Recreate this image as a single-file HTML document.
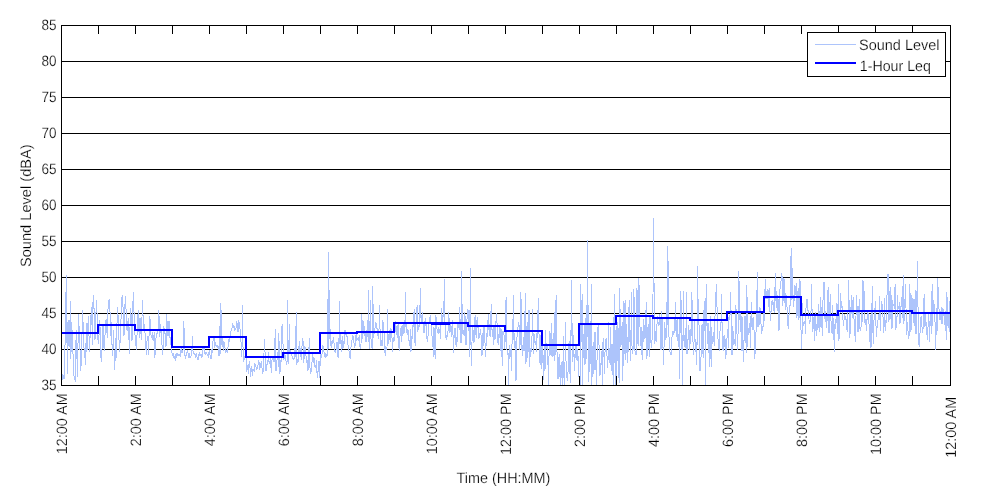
<!DOCTYPE html>
<html><head><meta charset="utf-8"><title>Sound Level</title>
<style>
html,body{margin:0;padding:0;background:#fff;}
body{width:1000px;height:500px;position:relative;overflow:hidden;font-family:"Liberation Sans",sans-serif;font-size:15px;color:#000;}
svg{position:absolute;left:0;top:0;}
</style></head><body>
<svg width="1000" height="500" viewBox="0 0 1000 500" shape-rendering="crispEdges">
<rect x="0" y="0" width="1000" height="500" fill="#fff"/>
<g fill="#000"><rect x="61" y="25" width="890" height="1"/><rect x="61" y="61" width="890" height="1"/><rect x="61" y="97" width="890" height="1"/><rect x="61" y="133" width="890" height="1"/><rect x="61" y="169" width="890" height="1"/><rect x="61" y="205" width="890" height="1"/><rect x="61" y="241" width="890" height="1"/><rect x="61" y="277" width="890" height="1"/><rect x="61" y="313" width="890" height="1"/><rect x="61" y="349" width="890" height="1"/><rect x="61" y="385" width="890" height="1"/></g>
<path d="M61.0 384.0 L61.6 380.3 L62.2 379.0 L62.9 374.5 L63.5 375.6 L64.1 379.0 L64.7 356.0 L65.3 335.0 L65.9 295.5 L66.6 275.0 L67.2 374.0 L67.8 322.0 L68.4 346.0 L69.0 320.0 L69.6 347.0 L70.3 301.0 L70.9 359.0 L71.5 322.0 L72.1 347.0 L72.7 330.0 L73.3 375.0 L74.0 376.3 L74.6 379.5 L75.2 380.5 L75.8 344.9 L76.4 330.0 L77.1 362.7 L77.7 376.5 L78.3 314.0 L78.9 323.0 L79.5 337.6 L80.1 352.0 L80.8 371.0 L81.4 356.4 L82.0 332.5 L82.6 310.0 L83.2 327.0 L83.8 346.0 L84.5 352.6 L85.1 358.4 L85.7 364.5 L86.3 323.0 L86.9 352.0 L87.5 341.2 L88.2 316.0 L88.8 327.6 L89.4 351.5 L90.0 338.6 L90.6 326.4 L91.3 307.0 L91.9 320.4 L92.5 345.0 L93.1 295.0 L93.7 295.0 L94.3 320.4 L95.0 340.0 L95.6 322.8 L96.2 307.4 L96.8 300.0 L97.4 336.0 L98.0 339.5 L98.7 344.0 L99.3 327.3 L99.9 320.0 L100.5 356.0 L101.1 358.3 L101.7 361.5 L102.4 334.3 L103.0 326.0 L103.6 341.9 L104.2 351.0 L104.8 337.9 L105.5 327.6 L106.1 319.0 L106.7 326.6 L107.3 338.0 L107.9 310.0 L108.5 304.5 L109.2 299.0 L109.8 299.0 L110.4 336.0 L111.0 329.2 L111.6 322.0 L112.2 355.5 L112.9 347.1 L113.5 330.0 L114.1 352.5 L114.7 369.5 L115.3 338.0 L115.9 361.0 L116.6 340.7 L117.2 315.3 L117.8 307.0 L118.4 330.0 L119.0 339.7 L119.6 351.5 L120.3 336.3 L120.9 320.0 L121.5 313.2 L122.1 295.0 L122.7 295.0 L123.4 320.2 L124.0 336.0 L124.6 321.4 L125.2 296.0 L125.8 304.5 L126.4 318.3 L127.1 331.0 L127.7 323.7 L128.3 318.0 L128.9 336.6 L129.5 353.5 L130.1 322.4 L130.8 308.0 L131.4 326.5 L132.0 341.0 L132.6 319.8 L133.2 292.0 L133.8 303.2 L134.5 332.0 L135.1 335.8 L135.7 341.8 L136.3 350.0 L136.9 338.4 L137.6 321.4 L138.2 310.0 L138.8 328.7 L139.4 338.0 L140.0 318.0 L140.6 325.7 L141.3 340.0 L141.9 320.2 L142.5 300.0 L143.1 317.4 L143.7 330.0 L144.3 324.0 L145.0 332.6 L145.6 340.0 L146.2 354.5 L146.8 343.7 L147.4 335.6 L148.0 339.1 L148.7 354.9 L149.3 318.7 L149.9 316.6 L150.5 329.1 L151.1 336.3 L151.8 337.9 L152.4 332.1 L153.0 340.1 L153.6 340.1 L154.2 332.2 L154.8 357.6 L155.5 348.7 L156.1 335.7 L156.7 334.3 L157.3 332.5 L157.9 333.3 L158.5 309.7 L159.2 317.8 L159.8 337.2 L160.4 324.5 L161.0 329.6 L161.6 341.9 L162.2 346.5 L162.9 354.8 L163.5 327.2 L164.1 328.0 L164.7 328.5 L165.3 338.2 L166.0 347.2 L166.6 314.1 L167.2 336.3 L167.8 321.4 L168.4 335.6 L169.0 320.6 L169.7 330.2 L170.3 344.6 L170.9 337.9 L171.5 338.2 L172.1 356.0 L172.7 354.9 L173.4 353.8 L174.0 357.8 L174.6 358.1 L175.2 354.5 L175.8 360.7 L176.4 353.5 L177.1 356.0 L177.7 353.8 L178.3 354.0 L178.9 355.6 L179.5 355.0 L180.2 355.8 L180.8 350.2 L181.4 348.0 L182.0 353.0 L182.6 350.7 L183.2 349.5 L183.9 321.0 L184.5 354.7 L185.1 356.0 L185.7 358.6 L186.3 352.9 L186.9 353.3 L187.6 350.3 L188.2 354.3 L188.8 358.2 L189.4 352.9 L190.0 357.6 L190.6 357.8 L191.3 354.7 L191.9 348.6 L192.5 336.0 L193.1 354.0 L193.7 352.0 L194.3 354.0 L195.0 354.8 L195.6 358.2 L196.2 352.6 L196.8 356.2 L197.4 358.7 L198.1 359.6 L198.7 355.4 L199.3 352.2 L199.9 355.8 L200.5 354.7 L201.1 354.3 L201.8 357.7 L202.4 354.5 L203.0 347.6 L203.6 350.1 L204.2 347.0 L204.8 353.2 L205.5 354.2 L206.1 352.1 L206.7 352.9 L207.3 355.6 L207.9 354.5 L208.5 357.6 L209.2 350.4 L209.8 353.7 L210.4 357.1 L211.0 359.0 L211.6 349.3 L212.3 352.6 L212.9 341.2 L213.5 340.3 L214.1 336.5 L214.7 348.1 L215.3 342.4 L216.0 345.7 L216.6 346.2 L217.2 347.1 L217.8 344.9 L218.4 347.9 L219.0 356.1 L219.7 351.5 L220.3 303.0 L220.9 354.1 L221.5 310.0 L222.1 342.8 L222.7 343.4 L223.4 351.1 L224.0 341.7 L224.6 342.7 L225.2 350.5 L225.8 352.6 L226.5 349.9 L227.1 352.4 L227.7 350.5 L228.3 343.6 L228.9 339.1 L229.5 341.5 L230.2 334.8 L230.8 332.1 L231.4 329.0 L232.0 327.7 L232.6 323.2 L233.2 327.4 L233.9 324.8 L234.5 330.6 L235.1 330.0 L235.7 328.2 L236.3 327.8 L236.9 321.4 L237.6 330.3 L238.2 332.0 L238.8 321.8 L239.4 322.9 L240.0 329.1 L240.7 329.3 L241.3 353.7 L241.9 356.8 L242.5 305.0 L243.1 354.6 L243.7 361.6 L244.4 358.5 L245.0 356.0 L245.6 335.9 L246.2 366.6 L246.8 372.2 L247.4 367.1 L248.1 364.3 L248.7 374.2 L249.3 361.2 L249.9 366.2 L250.5 377.2 L251.1 366.2 L251.8 369.3 L252.4 375.9 L253.0 369.4 L253.6 369.9 L254.2 371.7 L254.9 364.1 L255.5 364.8 L256.1 366.9 L256.7 370.1 L257.3 367.5 L257.9 365.7 L258.6 361.2 L259.2 362.4 L259.8 368.7 L260.4 367.5 L261.0 362.7 L261.6 360.8 L262.3 373.2 L262.9 372.1 L263.5 369.0 L264.1 349.9 L264.7 339.0 L265.3 363.2 L266.0 371.2 L266.6 367.4 L267.2 363.2 L267.8 364.8 L268.4 351.8 L269.1 363.0 L269.7 363.6 L270.3 358.2 L270.9 367.2 L271.5 373.4 L272.1 358.3 L272.8 356.2 L273.4 360.7 L274.0 361.9 L274.6 359.2 L275.2 329.0 L275.8 370.2 L276.5 370.4 L277.1 358.2 L277.7 352.5 L278.3 367.0 L278.9 333.0 L279.5 374.1 L280.2 370.7 L280.8 360.1 L281.4 362.1 L282.0 326.0 L282.6 325.0 L283.2 352.6 L283.9 359.9 L284.5 353.1 L285.1 355.1 L285.7 360.4 L286.3 361.9 L287.0 364.5 L287.6 300.0 L288.2 357.2 L288.8 363.8 L289.4 324.0 L290.0 352.6 L290.7 351.0 L291.3 355.2 L291.9 356.0 L292.5 358.4 L293.1 358.2 L293.7 359.4 L294.4 357.5 L295.0 348.0 L295.6 357.3 L296.2 312.0 L296.8 364.6 L297.4 359.1 L298.1 361.9 L298.7 352.1 L299.3 340.8 L299.9 351.6 L300.5 348.2 L301.2 359.8 L301.8 350.3 L302.4 338.4 L303.0 340.5 L303.6 363.3 L304.2 357.1 L304.9 347.0 L305.5 347.6 L306.1 357.9 L306.7 361.8 L307.3 360.9 L307.9 370.7 L308.6 368.6 L309.2 338.0 L309.8 364.3 L310.4 373.4 L311.0 371.7 L311.6 371.5 L312.3 355.0 L312.9 355.6 L313.5 362.7 L314.1 357.6 L314.7 366.2 L315.4 365.9 L316.0 368.2 L316.6 360.4 L317.2 378.4 L317.8 376.0 L318.4 363.5 L319.1 360.9 L319.7 378.4 L320.3 354.1 L320.9 356.5 L321.5 358.0 L322.1 353.2 L322.8 344.9 L323.4 349.0 L324.0 351.6 L324.6 356.8 L325.2 357.0 L325.8 353.0 L326.5 355.9 L327.1 355.3 L327.7 353.3 L328.3 252.0 L328.9 349.3 L329.6 290.0 L330.2 345.6 L330.8 344.8 L331.4 347.9 L332.0 341.1 L332.6 344.1 L333.3 336.6 L333.9 340.9 L334.5 349.5 L335.1 352.9 L335.7 350.9 L336.3 349.1 L337.0 341.8 L337.6 356.8 L338.2 355.6 L338.8 358.2 L339.4 301.0 L340.0 344.1 L340.7 333.6 L341.3 346.0 L341.9 352.0 L342.5 336.2 L343.1 341.8 L343.8 348.3 L344.4 335.6 L345.0 330.1 L345.6 332.8 L346.2 336.7 L346.8 333.3 L347.5 341.1 L348.1 345.6 L348.7 349.9 L349.3 352.1 L349.9 358.1 L350.5 358.3 L351.2 342.5 L351.8 341.4 L352.4 337.3 L353.0 335.6 L353.6 341.3 L354.2 344.2 L354.9 348.4 L355.5 336.8 L356.1 334.4 L356.7 341.2 L357.3 338.4 L358.0 338.3 L358.6 340.5 L359.2 335.1 L359.8 346.2 L360.4 347.5 L361.0 344.0 L361.7 314.0 L362.3 339.1 L362.9 320.0 L363.5 323.4 L364.1 335.5 L364.7 326.2 L365.4 338.1 L366.0 342.4 L366.6 330.1 L367.2 335.6 L367.8 337.1 L368.4 290.0 L369.1 349.4 L369.7 345.2 L370.3 300.0 L370.9 338.9 L371.5 340.8 L372.1 348.8 L372.8 286.0 L373.4 338.4 L374.0 328.7 L374.6 333.9 L375.2 325.6 L375.9 322.1 L376.5 328.9 L377.1 328.5 L377.7 333.3 L378.3 338.6 L378.9 333.0 L379.6 305.0 L380.2 339.7 L380.8 346.0 L381.4 340.4 L382.0 346.4 L382.6 319.9 L383.3 322.8 L383.9 332.1 L384.5 338.8 L385.1 355.8 L385.7 346.0 L386.3 349.9 L387.0 347.3 L387.6 309.0 L388.2 344.3 L388.8 337.4 L389.4 340.2 L390.1 328.2 L390.7 342.0 L391.3 329.4 L391.9 334.8 L392.5 352.4 L393.1 340.1 L393.8 337.2 L394.4 340.9 L395.0 332.8 L395.6 321.4 L396.2 328.3 L396.8 334.1 L397.5 337.5 L398.1 323.3 L398.7 344.4 L399.3 350.9 L399.9 336.2 L400.5 333.6 L401.2 325.6 L401.8 341.7 L402.4 325.5 L403.0 334.1 L403.6 325.2 L404.3 319.9 L404.9 332.6 L405.5 292.0 L406.1 333.3 L406.7 322.9 L407.3 334.6 L408.0 329.8 L408.6 331.8 L409.2 345.0 L409.8 345.6 L410.4 328.8 L411.0 351.8 L411.7 336.4 L412.3 339.0 L412.9 325.2 L413.5 326.6 L414.1 309.5 L414.7 339.9 L415.4 346.2 L416.0 321.9 L416.6 310.3 L417.2 305.1 L417.8 332.1 L418.5 324.7 L419.1 326.2 L419.7 324.2 L420.3 288.0 L420.9 315.9 L421.5 324.0 L422.2 311.8 L422.8 321.6 L423.4 328.9 L424.0 333.1 L424.6 327.4 L425.2 318.5 L425.9 326.3 L426.5 322.4 L427.1 342.2 L427.7 340.9 L428.3 331.3 L428.9 324.3 L429.6 319.5 L430.2 315.4 L430.8 319.9 L431.4 330.3 L432.0 335.6 L432.7 337.5 L433.3 356.5 L433.9 327.4 L434.5 328.7 L435.1 359.0 L435.7 314.8 L436.4 319.1 L437.0 328.6 L437.6 330.8 L438.2 334.4 L438.8 327.5 L439.4 333.0 L440.1 330.7 L440.7 338.7 L441.3 308.5 L441.9 313.2 L442.5 325.0 L443.1 315.5 L443.8 313.0 L444.4 279.0 L445.0 322.0 L445.6 334.9 L446.2 339.5 L446.9 335.3 L447.5 336.7 L448.1 329.7 L448.7 312.1 L449.3 324.4 L449.9 333.4 L450.6 323.7 L451.2 326.5 L451.8 337.4 L452.4 320.5 L453.0 334.6 L453.6 352.9 L454.3 328.3 L454.9 330.6 L455.5 327.6 L456.1 347.3 L456.7 337.4 L457.3 342.0 L458.0 323.9 L458.6 327.5 L459.2 328.5 L459.8 307.4 L460.4 341.0 L461.1 342.9 L461.7 271.0 L462.3 333.6 L462.9 328.6 L463.5 334.3 L464.1 334.8 L464.8 312.3 L465.4 322.3 L466.0 345.4 L466.6 326.1 L467.2 315.9 L467.8 309.3 L468.5 312.8 L469.1 334.4 L469.7 357.3 L470.3 268.0 L470.9 339.5 L471.5 365.7 L472.2 333.2 L472.8 324.6 L473.4 339.4 L474.0 342.6 L474.6 321.8 L475.2 315.5 L475.9 334.3 L476.5 337.5 L477.1 316.8 L477.7 327.8 L478.3 325.3 L479.0 338.6 L479.6 333.3 L480.2 332.7 L480.8 328.9 L481.4 347.4 L482.0 355.8 L482.7 333.3 L483.3 345.5 L483.9 325.9 L484.5 333.4 L485.1 344.2 L485.7 356.8 L486.4 333.3 L487.0 332.8 L487.6 336.5 L488.2 313.9 L488.8 330.2 L489.4 324.0 L490.1 337.1 L490.7 319.1 L491.3 303.9 L491.9 328.5 L492.5 336.5 L493.2 327.0 L493.8 344.8 L494.4 332.4 L495.0 325.4 L495.6 338.8 L496.2 313.5 L496.9 320.6 L497.5 331.0 L498.1 345.1 L498.7 334.0 L499.3 338.2 L499.9 325.9 L500.6 336.5 L501.2 357.3 L501.8 329.2 L502.4 365.5 L503.0 331.5 L503.6 333.7 L504.3 336.3 L504.9 348.5 L505.5 317.6 L506.1 297.1 L506.7 346.3 L507.4 354.8 L508.0 352.4 L508.6 384.6 L509.2 348.0 L509.8 344.7 L510.4 357.1 L511.1 347.8 L511.7 371.3 L512.3 318.8 L512.9 329.9 L513.5 295.3 L514.1 347.8 L514.8 332.8 L515.4 355.9 L516.0 381.4 L516.6 343.1 L517.2 334.6 L517.8 329.1 L518.5 322.2 L519.1 325.4 L519.7 349.7 L520.3 340.8 L520.9 292.0 L521.6 335.9 L522.2 356.0 L522.8 350.0 L523.4 337.4 L524.0 351.4 L524.6 337.4 L525.3 293.0 L525.9 364.3 L526.5 350.3 L527.1 322.0 L527.7 357.7 L528.3 347.4 L529.0 310.3 L529.6 366.6 L530.2 348.1 L530.8 356.8 L531.4 344.5 L532.0 336.7 L532.7 309.5 L533.3 354.4 L533.9 341.1 L534.5 333.8 L535.1 345.1 L535.8 341.1 L536.4 352.0 L537.0 333.3 L537.6 337.7 L538.2 298.4 L538.8 326.9 L539.5 350.6 L540.1 365.4 L540.7 334.8 L541.3 336.3 L541.9 368.7 L542.5 338.2 L543.2 360.4 L543.8 380.2 L544.4 345.8 L545.0 370.8 L545.6 330.1 L546.2 349.4 L546.9 343.4 L547.5 347.4 L548.1 368.7 L548.7 385.0 L549.3 331.0 L550.0 332.9 L550.6 355.4 L551.2 322.8 L551.8 355.4 L552.4 357.0 L553.0 339.2 L553.7 356.2 L554.3 312.5 L554.9 361.0 L555.5 331.1 L556.1 295.0 L556.7 350.9 L557.4 354.0 L558.0 379.2 L558.6 363.6 L559.2 354.1 L559.8 372.9 L560.4 385.0 L561.1 362.1 L561.7 369.3 L562.3 385.0 L562.9 367.4 L563.5 336.3 L564.1 385.0 L564.8 385.0 L565.4 322.3 L566.0 361.2 L566.6 370.3 L567.2 381.3 L567.9 375.4 L568.5 356.6 L569.1 340.9 L569.7 364.1 L570.3 382.7 L570.9 340.2 L571.6 280.0 L572.2 361.5 L572.8 323.3 L573.4 356.8 L574.0 353.3 L574.6 371.0 L575.3 348.0 L575.9 344.4 L576.5 354.1 L577.1 361.0 L577.7 348.7 L578.3 362.2 L579.0 377.0 L579.6 381.6 L580.2 385.0 L580.8 284.0 L581.4 341.5 L582.1 294.5 L582.7 385.0 L583.3 333.9 L583.9 351.2 L584.5 365.1 L585.1 318.0 L585.8 363.6 L586.4 351.3 L587.0 306.3 L587.6 240.0 L588.2 381.9 L588.8 305.3 L589.5 372.2 L590.1 357.2 L590.7 363.9 L591.3 284.0 L591.9 384.6 L592.5 346.4 L593.2 373.8 L593.8 341.8 L594.4 370.2 L595.0 331.7 L595.6 349.3 L596.3 385.0 L596.9 363.1 L597.5 348.0 L598.1 323.4 L598.7 332.2 L599.3 356.8 L600.0 375.5 L600.6 362.7 L601.2 365.1 L601.8 351.0 L602.4 385.0 L603.0 342.2 L603.7 338.3 L604.3 374.2 L604.9 353.6 L605.5 345.0 L606.1 337.6 L606.7 345.6 L607.4 367.6 L608.0 360.8 L608.6 321.8 L609.2 362.7 L609.8 356.5 L610.5 327.0 L611.1 371.3 L611.7 345.0 L612.3 343.6 L612.9 371.9 L613.5 385.0 L614.2 294.0 L614.8 363.0 L615.4 330.1 L616.0 384.6 L616.6 325.6 L617.2 361.1 L617.9 322.4 L618.5 353.0 L619.1 382.6 L619.7 287.7 L620.3 326.9 L620.9 346.5 L621.6 334.0 L622.2 322.0 L622.8 381.2 L623.4 337.7 L624.0 301.5 L624.7 353.9 L625.3 299.8 L625.9 360.2 L626.5 323.9 L627.1 339.0 L627.7 362.5 L628.4 338.5 L629.0 306.8 L629.6 300.4 L630.2 360.8 L630.8 351.5 L631.4 292.0 L632.1 354.0 L632.7 346.4 L633.3 349.6 L633.9 288.6 L634.5 329.7 L635.1 354.9 L635.8 351.4 L636.4 354.5 L637.0 287.7 L637.6 339.6 L638.2 346.3 L638.9 278.0 L639.5 316.0 L640.1 329.1 L640.7 336.8 L641.3 354.6 L641.9 326.7 L642.6 360.1 L643.2 319.5 L643.8 341.6 L644.4 324.9 L645.0 339.3 L645.6 321.5 L646.3 302.5 L646.9 359.0 L647.5 342.4 L648.1 324.3 L648.7 340.2 L649.3 356.8 L650.0 315.5 L650.6 333.7 L651.2 347.3 L651.8 347.0 L652.4 329.0 L653.0 294.9 L653.7 218.0 L654.3 343.6 L654.9 337.3 L655.5 331.4 L656.1 342.3 L656.8 328.5 L657.4 316.5 L658.0 322.2 L658.6 325.1 L659.2 324.8 L659.8 313.8 L660.5 349.7 L661.1 310.8 L661.7 350.2 L662.3 316.7 L662.9 344.0 L663.5 364.5 L664.2 341.1 L664.8 322.4 L665.4 338.0 L666.0 340.0 L666.6 302.3 L667.2 324.8 L667.9 246.0 L668.5 327.6 L669.1 338.6 L669.7 351.7 L670.3 352.3 L671.0 355.1 L671.6 348.8 L672.2 331.2 L672.8 336.6 L673.4 331.6 L674.0 330.7 L674.7 333.4 L675.3 302.5 L675.9 330.3 L676.5 336.5 L677.1 317.5 L677.7 336.5 L678.4 347.3 L679.0 333.7 L679.6 378.5 L680.2 291.0 L680.8 332.9 L681.4 300.5 L682.1 356.6 L682.7 385.0 L683.3 291.0 L683.9 339.6 L684.5 347.4 L685.2 331.0 L685.8 348.0 L686.4 292.1 L687.0 354.0 L687.6 344.4 L688.2 337.5 L688.9 325.2 L689.5 349.8 L690.1 328.8 L690.7 343.7 L691.3 328.3 L691.9 291.8 L692.6 338.3 L693.2 343.2 L693.8 354.8 L694.4 320.6 L695.0 338.3 L695.6 352.0 L696.3 342.1 L696.9 365.1 L697.5 266.0 L698.1 319.9 L698.7 298.7 L699.4 357.0 L700.0 371.1 L700.6 358.4 L701.2 356.1 L701.8 326.0 L702.4 324.0 L703.1 357.7 L703.7 319.9 L704.3 300.9 L704.9 318.1 L705.5 385.0 L706.1 284.0 L706.8 324.6 L707.4 323.7 L708.0 343.9 L708.6 323.3 L709.2 366.5 L709.8 337.4 L710.5 316.2 L711.1 366.5 L711.7 326.8 L712.3 343.6 L712.9 338.7 L713.6 332.4 L714.2 345.8 L714.8 324.5 L715.4 300.3 L716.0 292.6 L716.6 284.0 L717.3 323.1 L717.9 338.5 L718.5 340.2 L719.1 350.7 L719.7 341.5 L720.3 322.3 L721.0 324.1 L721.6 294.5 L722.2 335.4 L722.8 349.2 L723.4 350.1 L724.0 336.5 L724.7 335.3 L725.3 358.7 L725.9 339.3 L726.5 354.5 L727.1 335.6 L727.8 329.5 L728.4 347.6 L729.0 316.6 L729.6 320.1 L730.2 312.7 L730.8 292.0 L731.5 351.7 L732.1 355.0 L732.7 326.4 L733.3 335.4 L733.9 345.4 L734.5 339.3 L735.2 345.9 L735.8 305.2 L736.4 315.5 L737.0 333.5 L737.6 349.7 L738.2 327.7 L738.9 271.0 L739.5 320.2 L740.1 315.1 L740.7 311.8 L741.3 350.8 L741.9 315.7 L742.6 326.3 L743.2 361.7 L743.8 345.5 L744.4 331.5 L745.0 315.9 L745.7 332.8 L746.3 352.8 L746.9 285.0 L747.5 346.8 L748.1 327.6 L748.7 334.5 L749.4 322.7 L750.0 333.0 L750.6 347.5 L751.2 302.4 L751.8 325.0 L752.4 330.0 L753.1 316.6 L753.7 320.9 L754.3 339.0 L754.9 359.0 L755.5 336.4 L756.1 331.4 L756.8 300.4 L757.4 272.0 L758.0 327.3 L758.6 325.4 L759.2 307.5 L759.9 325.1 L760.5 307.9 L761.1 327.2 L761.7 333.7 L762.3 326.5 L762.9 330.6 L763.6 311.9 L764.2 321.0 L764.8 295.4 L765.4 279.0 L766.0 299.4 L766.6 292.9 L767.3 289.4 L767.9 297.7 L768.5 306.5 L769.1 287.8 L769.7 300.5 L770.3 321.4 L771.0 312.8 L771.6 301.5 L772.2 304.6 L772.8 301.5 L773.4 302.3 L774.1 312.5 L774.7 302.3 L775.3 273.1 L775.9 301.2 L776.5 291.4 L777.1 310.9 L777.8 295.5 L778.4 304.6 L779.0 331.3 L779.6 290.8 L780.2 287.8 L780.8 283.9 L781.5 273.1 L782.1 277.0 L782.7 306.4 L783.3 294.9 L783.9 278.3 L784.5 282.5 L785.2 310.0 L785.8 293.3 L786.4 297.8 L787.0 307.0 L787.6 320.8 L788.3 329.1 L788.9 317.7 L789.5 305.6 L790.1 305.5 L790.7 265.0 L791.3 248.0 L792.0 300.0 L792.6 268.0 L793.2 307.0 L793.8 303.9 L794.4 296.6 L795.0 285.5 L795.7 295.2 L796.3 282.6 L796.9 317.9 L797.5 310.7 L798.1 287.7 L798.7 320.4 L799.4 315.4 L800.0 278.8 L800.6 325.7 L801.2 331.5 L801.8 348.5 L802.5 303.3 L803.1 325.6 L803.7 325.2 L804.3 322.1 L804.9 321.6 L805.5 333.9 L806.2 298.8 L806.8 300.6 L807.4 298.6 L808.0 310.2 L808.6 310.1 L809.2 323.7 L809.9 323.0 L810.5 319.6 L811.1 309.6 L811.7 284.0 L812.3 332.0 L812.9 330.3 L813.6 321.0 L814.2 314.6 L814.8 340.5 L815.4 311.8 L816.0 327.7 L816.6 335.6 L817.3 316.1 L817.9 330.4 L818.5 304.0 L819.1 332.4 L819.7 322.5 L820.4 297.0 L821.0 327.3 L821.6 306.9 L822.2 336.3 L822.8 310.4 L823.4 282.0 L824.1 282.0 L824.7 314.5 L825.3 322.4 L825.9 311.4 L826.5 328.0 L827.1 319.5 L827.8 292.0 L828.4 286.8 L829.0 333.3 L829.6 320.2 L830.2 294.1 L830.8 319.1 L831.5 325.5 L832.1 334.3 L832.7 304.6 L833.3 339.9 L833.9 317.8 L834.6 352.4 L835.2 318.6 L835.8 328.5 L836.4 314.3 L837.0 303.2 L837.6 333.5 L838.3 284.0 L838.9 341.0 L839.5 331.6 L840.1 310.4 L840.7 293.5 L841.3 307.4 L842.0 307.7 L842.6 305.7 L843.2 325.8 L843.8 323.1 L844.4 314.4 L845.0 320.3 L845.7 316.0 L846.3 321.0 L846.9 329.0 L847.5 332.4 L848.1 308.8 L848.8 280.0 L849.4 337.6 L850.0 320.6 L850.6 334.1 L851.2 295.0 L851.8 312.1 L852.5 318.1 L853.1 297.1 L853.7 309.5 L854.3 328.1 L854.9 334.1 L855.5 341.9 L856.2 306.7 L856.8 295.0 L857.4 324.5 L858.0 331.9 L858.6 321.5 L859.2 299.3 L859.9 328.4 L860.5 330.0 L861.1 326.6 L861.7 311.4 L862.3 322.1 L863.0 280.0 L863.6 310.5 L864.2 290.9 L864.8 321.4 L865.4 325.1 L866.0 318.6 L866.7 330.9 L867.3 310.1 L867.9 316.4 L868.5 313.5 L869.1 326.1 L869.7 341.5 L870.4 315.5 L871.0 347.6 L871.6 341.6 L872.2 286.0 L872.8 327.1 L873.4 344.1 L874.1 316.7 L874.7 316.3 L875.3 301.5 L875.9 323.1 L876.5 336.8 L877.2 325.7 L877.8 323.6 L878.4 314.4 L879.0 319.3 L879.6 296.5 L880.2 331.2 L880.9 311.8 L881.5 300.7 L882.1 305.3 L882.7 304.5 L883.3 328.8 L883.9 332.9 L884.6 298.1 L885.2 329.5 L885.8 330.5 L886.4 309.3 L887.0 295.1 L887.6 274.0 L888.3 274.0 L888.9 321.5 L889.5 312.0 L890.1 287.4 L890.7 318.9 L891.4 294.9 L892.0 329.0 L892.6 300.1 L893.2 306.1 L893.8 304.1 L894.4 308.5 L895.1 284.0 L895.7 330.3 L896.3 326.4 L896.9 322.1 L897.5 294.8 L898.1 308.4 L898.8 308.6 L899.4 302.4 L900.0 323.6 L900.6 306.6 L901.2 306.2 L901.8 301.3 L902.5 286.4 L903.1 324.1 L903.7 275.0 L904.3 320.5 L904.9 303.0 L905.5 283.6 L906.2 317.5 L906.8 334.6 L907.4 322.2 L908.0 330.7 L908.6 339.1 L909.3 334.4 L909.9 284.0 L910.5 332.0 L911.1 329.0 L911.7 295.3 L912.3 311.5 L913.0 298.5 L913.6 315.6 L914.2 325.7 L914.8 304.0 L915.4 289.6 L916.0 334.1 L916.7 323.9 L917.3 261.0 L917.9 301.2 L918.5 331.5 L919.1 346.6 L919.7 346.5 L920.4 316.6 L921.0 321.6 L921.6 316.1 L922.2 331.4 L922.8 332.7 L923.5 319.9 L924.1 294.0 L924.7 327.1 L925.3 312.1 L925.9 326.2 L926.5 322.0 L927.2 340.1 L927.8 334.4 L928.4 312.7 L929.0 322.4 L929.6 342.0 L930.2 312.0 L930.9 323.5 L931.5 334.3 L932.1 284.0 L932.7 325.9 L933.3 300.6 L933.9 300.1 L934.6 320.4 L935.2 323.3 L935.8 350.4 L936.4 308.1 L937.0 332.8 L937.7 278.0 L938.3 296.0 L938.9 305.9 L939.5 319.6 L940.1 311.4 L940.7 315.6 L941.4 324.2 L942.0 307.4 L942.6 323.8 L943.2 309.7 L943.8 310.2 L944.4 324.9 L945.1 310.6 L945.7 321.5 L946.3 339.7 L946.9 292.0 L947.5 316.1 L948.1 327.8 L948.8 313.6 L949.4 332.4 L950.0 301.4" fill="none" stroke="#adc4fb" stroke-width="1"/>
<g fill="#0000ff"><rect x="61" y="332" width="37" height="2"/><rect x="97" y="324" width="2" height="10"/><rect x="98" y="324" width="37" height="2"/><rect x="134" y="324" width="2" height="7"/><rect x="135" y="329" width="37" height="2"/><rect x="171" y="329" width="2" height="19"/><rect x="172" y="346" width="37" height="2"/><rect x="208" y="336" width="2" height="12"/><rect x="209" y="336" width="37" height="2"/><rect x="245" y="336" width="2" height="22"/><rect x="246" y="356" width="37" height="2"/><rect x="282" y="352" width="2" height="6"/><rect x="283" y="352" width="37" height="2"/><rect x="319" y="332" width="2" height="22"/><rect x="320" y="332" width="37" height="2"/><rect x="356" y="331" width="2" height="3"/><rect x="357" y="331" width="37" height="2"/><rect x="393" y="322" width="2" height="11"/><rect x="394" y="322" width="37" height="2"/><rect x="430" y="322" width="2" height="2"/><rect x="431" y="322" width="37" height="2"/><rect x="467" y="322" width="2" height="5"/><rect x="468" y="325" width="37" height="2"/><rect x="504" y="325" width="2" height="7"/><rect x="505" y="330" width="37" height="2"/><rect x="541" y="330" width="2" height="16"/><rect x="542" y="344" width="37" height="2"/><rect x="578" y="323" width="2" height="23"/><rect x="579" y="323" width="37" height="2"/><rect x="615" y="315" width="2" height="10"/><rect x="616" y="315" width="37" height="2"/><rect x="652" y="315" width="2" height="4"/><rect x="653" y="317" width="37" height="2"/><rect x="689" y="317" width="2" height="4"/><rect x="690" y="319" width="37" height="2"/><rect x="726" y="311" width="2" height="10"/><rect x="727" y="311" width="37" height="2"/><rect x="763" y="296" width="2" height="17"/><rect x="764" y="296" width="37" height="2"/><rect x="800" y="296" width="2" height="20"/><rect x="801" y="314" width="37" height="2"/><rect x="837" y="310" width="2" height="6"/><rect x="838" y="310" width="37" height="2"/><rect x="874" y="310" width="2" height="2"/><rect x="875" y="310" width="37" height="2"/><rect x="911" y="310" width="2" height="4"/><rect x="912" y="312" width="39" height="2"/><rect x="431" y="322" width="19" height="3"/></g>
<g fill="#000"><rect x="61" y="25" width="890" height="1"/><rect x="61" y="385" width="890" height="1"/><rect x="61" y="25" width="1" height="361"/><rect x="950" y="25" width="1" height="361"/><rect x="98" y="26" width="1" height="8"/><rect x="98" y="376" width="1" height="9"/><rect x="135" y="26" width="1" height="8"/><rect x="135" y="376" width="1" height="9"/><rect x="172" y="26" width="1" height="8"/><rect x="172" y="376" width="1" height="9"/><rect x="209" y="26" width="1" height="8"/><rect x="209" y="376" width="1" height="9"/><rect x="246" y="26" width="1" height="8"/><rect x="246" y="376" width="1" height="9"/><rect x="283" y="26" width="1" height="8"/><rect x="283" y="376" width="1" height="9"/><rect x="320" y="26" width="1" height="8"/><rect x="320" y="376" width="1" height="9"/><rect x="357" y="26" width="1" height="8"/><rect x="357" y="376" width="1" height="9"/><rect x="394" y="26" width="1" height="8"/><rect x="394" y="376" width="1" height="9"/><rect x="431" y="26" width="1" height="8"/><rect x="431" y="376" width="1" height="9"/><rect x="468" y="26" width="1" height="8"/><rect x="468" y="376" width="1" height="9"/><rect x="505" y="26" width="1" height="8"/><rect x="505" y="376" width="1" height="9"/><rect x="542" y="26" width="1" height="8"/><rect x="542" y="376" width="1" height="9"/><rect x="579" y="26" width="1" height="8"/><rect x="579" y="376" width="1" height="9"/><rect x="616" y="26" width="1" height="8"/><rect x="616" y="376" width="1" height="9"/><rect x="653" y="26" width="1" height="8"/><rect x="653" y="376" width="1" height="9"/><rect x="690" y="26" width="1" height="8"/><rect x="690" y="376" width="1" height="9"/><rect x="727" y="26" width="1" height="8"/><rect x="727" y="376" width="1" height="9"/><rect x="764" y="26" width="1" height="8"/><rect x="764" y="376" width="1" height="9"/><rect x="801" y="26" width="1" height="8"/><rect x="801" y="376" width="1" height="9"/><rect x="838" y="26" width="1" height="8"/><rect x="838" y="376" width="1" height="9"/><rect x="875" y="26" width="1" height="8"/><rect x="875" y="376" width="1" height="9"/><rect x="912" y="26" width="1" height="8"/><rect x="912" y="376" width="1" height="9"/></g>
<rect x="807.5" y="32.5" width="138" height="44" fill="#fff" stroke="#000" stroke-width="1"/>
<rect x="815" y="44" width="41" height="1" fill="#adc4fb"/>
<rect x="815" y="62" width="41" height="2" fill="#0000ff"/>
</svg>
<svg width="1000" height="500" viewBox="0 0 1000 500" style="will-change:transform" font-family="Liberation Sans, sans-serif" font-size="15" text-rendering="geometricPrecision" fill="#000" stroke="#fff" stroke-width="0.22"><text transform="translate(56.40,30.00) scale(0.900,1)" text-anchor="end">85</text><text transform="translate(56.40,66.00) scale(0.900,1)" text-anchor="end">80</text><text transform="translate(56.40,102.00) scale(0.900,1)" text-anchor="end">75</text><text transform="translate(56.40,138.00) scale(0.900,1)" text-anchor="end">70</text><text transform="translate(56.40,174.00) scale(0.900,1)" text-anchor="end">65</text><text transform="translate(56.40,210.00) scale(0.900,1)" text-anchor="end">60</text><text transform="translate(56.40,246.00) scale(0.900,1)" text-anchor="end">55</text><text transform="translate(56.40,282.00) scale(0.900,1)" text-anchor="end">50</text><text transform="translate(56.40,318.00) scale(0.900,1)" text-anchor="end">45</text><text transform="translate(56.40,354.00) scale(0.900,1)" text-anchor="end">40</text><text transform="translate(56.40,390.00) scale(0.900,1)" text-anchor="end">35</text><text transform="translate(67.00,393.30) rotate(-90) scale(0.960,1)" text-anchor="end">12:00 AM</text><text transform="translate(141.00,393.30) rotate(-90) scale(0.960,1)" text-anchor="end">2:00 AM</text><text transform="translate(215.00,393.30) rotate(-90) scale(0.960,1)" text-anchor="end">4:00 AM</text><text transform="translate(289.00,393.30) rotate(-90) scale(0.960,1)" text-anchor="end">6:00 AM</text><text transform="translate(363.00,393.30) rotate(-90) scale(0.960,1)" text-anchor="end">8:00 AM</text><text transform="translate(437.00,393.30) rotate(-90) scale(0.960,1)" text-anchor="end">10:00 AM</text><text transform="translate(511.00,393.30) rotate(-90) scale(0.960,1)" text-anchor="end">12:00 PM</text><text transform="translate(585.00,393.30) rotate(-90) scale(0.960,1)" text-anchor="end">2:00 PM</text><text transform="translate(659.00,393.30) rotate(-90) scale(0.960,1)" text-anchor="end">4:00 PM</text><text transform="translate(733.00,393.30) rotate(-90) scale(0.960,1)" text-anchor="end">6:00 PM</text><text transform="translate(807.00,393.30) rotate(-90) scale(0.960,1)" text-anchor="end">8:00 PM</text><text transform="translate(881.00,393.30) rotate(-90) scale(0.960,1)" text-anchor="end">10:00 PM</text><text transform="translate(956.00,396.80) rotate(-90) scale(0.960,1)" text-anchor="end">12:00 AM</text><text transform="translate(31.00,205.70) rotate(-90) scale(0.975,1)" text-anchor="middle">Sound Level (dBA)</text><text transform="translate(503.40,483.00) scale(0.960,1)" text-anchor="middle">Time (HH:MM)</text><text transform="translate(859.00,50.00) scale(0.965,1)" text-anchor="start">Sound Level</text><text transform="translate(859.80,71.00) scale(0.947,1)" text-anchor="start">1-Hour Leq</text></svg>
</body></html>
